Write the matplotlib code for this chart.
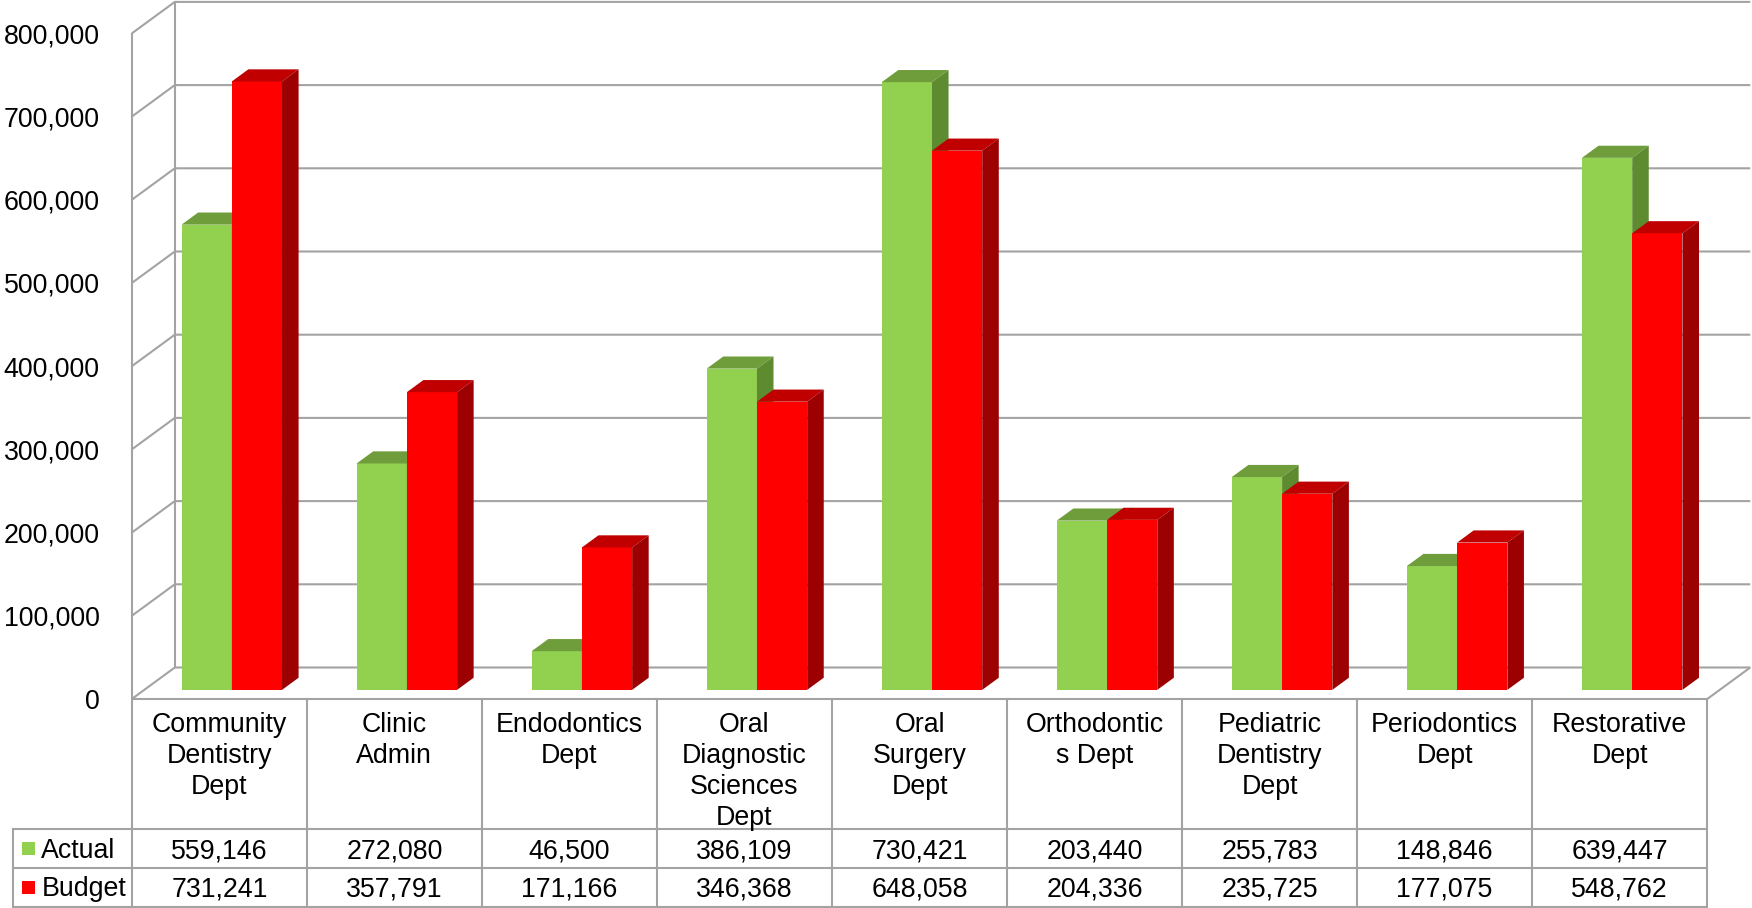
import matplotlib

matplotlib.use("Agg")
import matplotlib.pyplot as plt  # noqa: E402
from matplotlib.patches import Polygon, Rectangle  # noqa: E402
from matplotlib.transforms import offset_copy  # noqa: E402

plt.rcParams["font.family"] = ["Liberation Sans", "DejaVu Sans"]

# data
categories = ["Community\nDentistry\nDept", "Clinic\nAdmin", "Endodontics\nDept",
              "Oral\nDiagnostic\nSciences\nDept", "Oral\nSurgery\nDept",
              "Orthodontic\ns Dept", "Pediatric\nDentistry\nDept",
              "Periodontics\nDept", "Restorative\nDept"]
actual = [559146, 272080, 46500, 386109, 730421, 203440, 255783, 148846, 639447]
budget = [731241, 357791, 171166, 346368, 648058, 204336, 235725, 177075, 548762]
series_names = ["Actual", "Budget"]
yticks = list(range(0, 800001, 100000))

# style / layout (pixels of a 1752x908 canvas)
W, H = 1752, 908
X0, CW = 131.8, 175.05          # front-left edge of plot, px per category
Y0, PPV = 699.0, 83.2 / 100000  # px of value 0, px per value unit
DX, DY = 43.0, 31.5             # depth of the 3D box
D0, D1 = 0.29, 0.675            # bar depth span (fraction of box depth)
BW = 0.287                      # bar width in categories
GRID = "#a3a3a3"
FS = 19.3
faces = {
    "Actual": ("#92d050", "#6f9d3c", "#5f8b30"),
    "Budget": ("#ff0000", "#c00000", "#9c0000"),
}

fig = plt.figure(figsize=(W / 100, H / 100), dpi=100)
ax = fig.add_axes([0, 0, 1, 1])
ax.axis("off")
xmin, xmax = -0.5 - X0 / CW, -0.5 + (W - X0) / CW
ax.set_xlim(xmin, xmax)
ax.set_ylim((Y0 - H) / PPV, Y0 / PPV)
ddx, ddy = DX / CW, DY / PPV
n = len(categories)
xl, xr = -0.5, n - 0.5
lk = dict(color=GRID, lw=1.5, zorder=1, solid_capstyle="butt")

# walls, floor and gridlines
for v in yticks:
    ax.plot([xl, xl + ddx, xr + ddx], [v, v + ddy, v + ddy], **lk)
ax.plot([xl, xl], [0, yticks[-1]], **lk)
ax.plot([xl + ddx, xl + ddx], [ddy, yticks[-1] + ddy], **lk)
ax.plot([xl, xr, xr + ddx], [0, 0, ddy], **lk)

lab_tr = offset_copy(ax.transData, fig=fig, x=-32, y=-3, units="dots")
for v in yticks:
    ax.text(xl, v, f"{v:,}", transform=lab_tr, ha="right", va="center",
            fontsize=FS)

# 3D bars, drawn left to right
dd = D1 - D0
for i in range(n):
    for s, (name, vals) in enumerate(zip(series_names, [actual, budget])):
        v = vals[i]
        front, top, side = faces[name]
        L = i - BW + s * BW + D0 * ddx
        b = D0 * ddy
        ax.bar(L, v, width=BW, bottom=b, align="edge", color=front,
               linewidth=0, zorder=3)
        ax.add_patch(Polygon([(L, b + v), (L + BW, b + v),
                              (L + BW + dd * ddx, b + v + dd * ddy),
                              (L + dd * ddx, b + v + dd * ddy)],
                             closed=True, facecolor=top, lw=0, zorder=3))
        ax.add_patch(Polygon([(L + BW, b), (L + BW, b + v),
                              (L + BW + dd * ddx, b + v + dd * ddy),
                              (L + BW + dd * ddx, b + dd * ddy)],
                             closed=True, facecolor=side, lw=0, zorder=3))

# data table (x in categories, y in pixels)
tab = fig.add_axes([0, 0, 1, 1])
tab.axis("off")
tab.set_xlim(xmin, xmax)
tab.set_ylim(H, 0)
leg_l = -0.5 - (X0 - 13.3) / CW
r_top, r1, r2, r3 = Y0, 829.0, 868.0, 906.5
tk = dict(color=GRID, lw=1.5, solid_capstyle="projecting")
for y in (r1, r2, r3):
    tab.plot([leg_l, xr], [y, y], **tk)
tab.plot([leg_l, leg_l], [r1, r3], **tk)
for k in range(n + 1):
    tab.plot([xl + k, xl + k], [r_top, r3], **tk)

for i, cat in enumerate(categories):
    tab.text(i, r_top + 13, cat, ha="center", va="top", fontsize=FS,
             linespacing=1.25)
    tab.text(i, (r1 + r2) / 2 + 3, f"{actual[i]:,}", ha="center",
             va="center", fontsize=FS)
    tab.text(i, (r2 + r3) / 2 + 2, f"{budget[i]:,}", ha="center",
             va="center", fontsize=FS)

sq = 13.5 / CW
for name, (ya, yb) in zip(series_names, [(r1, r2), (r2, r3)]):
    yc = (ya + yb) / 2
    tab.add_patch(Rectangle((leg_l + 8.5 / CW, yc - 6.5), sq, 13,
                            facecolor=faces[name][0], lw=0))
    tab.text(leg_l + 28 / CW, yc + 2, name, ha="left", va="center",
             fontsize=FS)

fig.savefig("out.png", dpi=100)
